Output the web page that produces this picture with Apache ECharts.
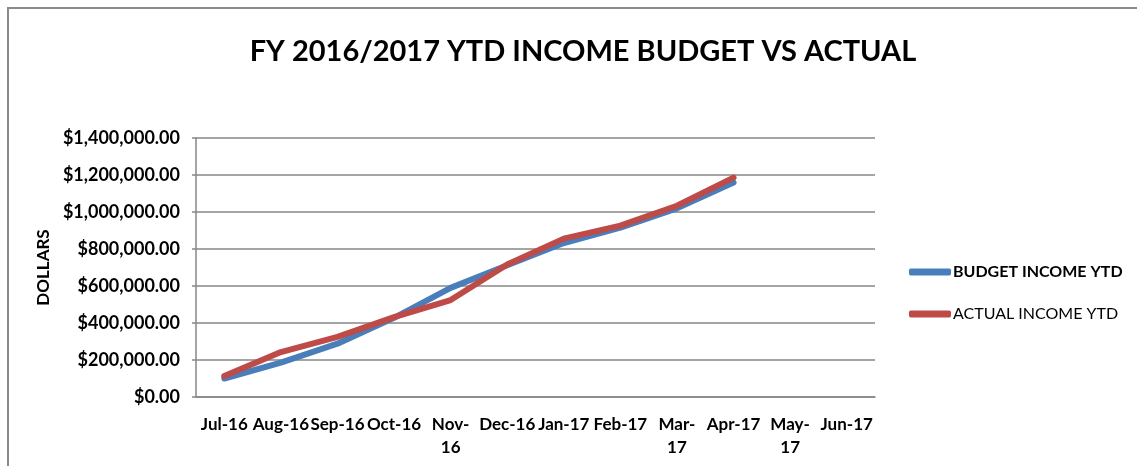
<!DOCTYPE html>
<html>
<head>
<meta charset="utf-8">
<script src="https://cdn.jsdelivr.net/npm/echarts@6/dist/echarts.min.js"></script>
<style>
  html, body { margin: 0; padding: 0; background: #fff; }
  #main { width: 1138px; height: 466px; }
</style>
</head>
<body>
<div id="main"></div>
<script>
const months = ['Jul-16', 'Aug-16', 'Sep-16', 'Oct-16', 'Nov-16', 'Dec-16',
  'Jan-17', 'Feb-17', 'Mar-17', 'Apr-17', 'May-17', 'Jun-17'];
const tickLabels = ['Jul-16', 'Aug-16', 'Sep-16', 'Oct-16', 'Nov-\n16', 'Dec-16',
  'Jan-17', 'Feb-17', 'Mar-\n17', 'Apr-17', 'May-\n17', 'Jun-17'];
const budgetYtd = [100000, 186000, 288000, 428000, 590000, 712000,
  832000, 915000, 1020000, 1160000, null, null];
const actualYtd = [113000, 243000, 325000, 432000, 524000, 716000,
  856000, 926000, 1034000, 1186000, null, null];

const font = 'Lato';
const myChart = echarts.init(document.getElementById('main'));

const option = {
  backgroundColor: '#fff',
  animation: false,
  textStyle: { fontFamily: font },
  // chart frame (only top and left edges are in view)
  graphic: [{
    type: 'polyline',
    shape: { points: [[8, 480], [8, 8], [1137, 8]] },
    style: { fill: 'none', stroke: '#8a8a8a', lineWidth: 2 },
    silent: true
  }],
  title: {
    text: 'FY 2016/2017 YTD INCOME BUDGET VS ACTUAL',
    left: 578,
    textAlign: 'center',
    top: 32,
    textStyle: { fontFamily: font, fontSize: 29, fontWeight: 'bold', color: '#000' }
  },
  legend: {
    orient: 'vertical',
    left: 904,
    top: 259,
    itemWidth: 42,
    itemHeight: 7,
    itemGap: 26,
    icon: 'roundRect',
    textStyle: { fontFamily: font, fontSize: 16, color: '#000', padding: [0, 0, 0, -3] },
    data: [
      { name: 'BUDGET INCOME YTD', textStyle: { fontWeight: 'bold' } },
      { name: 'ACTUAL INCOME YTD', textStyle: { fontWeight: 'normal' } }
    ]
  },
  grid: { left: 196, right: 263, top: 138, bottom: 69 },
  xAxis: {
    type: 'category',
    data: months,
    boundaryGap: true,
    axisLine: { lineStyle: { color: '#878787', width: 1.5 } },
    axisTick: { show: false },
    axisLabel: {
      interval: 0,
      margin: 16,
      color: '#000',
      fontFamily: font,
      fontSize: 17,
      fontWeight: 'bold',
      lineHeight: 23,
      formatter: (v, i) => tickLabels[i]
    }
  },
  yAxis: {
    type: 'value',
    min: 0,
    max: 1400000,
    interval: 200000,
    name: 'DOLLARS',
    nameLocation: 'middle',
    nameGap: 141,
    nameTextStyle: { fontFamily: font, fontSize: 17, fontWeight: 'bold', color: '#000' },
    axisLine: { show: true, lineStyle: { color: '#878787', width: 1.5 } },
    axisTick: { show: true, length: 4, lineStyle: { color: '#878787', width: 1.5 } },
    splitLine: { lineStyle: { color: '#878787', width: 1.5 } },
    axisLabel: {
      margin: 16,
      color: '#000',
      fontFamily: font,
      fontSize: 18,
      fontWeight: 'bold',
      formatter: v => '$' + v.toLocaleString('en-US', { minimumFractionDigits: 2, maximumFractionDigits: 2 })
    }
  },
  series: [
    {
      name: 'BUDGET INCOME YTD',
      type: 'line',
      data: budgetYtd,
      symbol: 'none',
      itemStyle: { color: '#4a7ebb' },
      lineStyle: { width: 6, color: '#4a7ebb', cap: 'round', join: 'round' }
    },
    {
      name: 'ACTUAL INCOME YTD',
      type: 'line',
      data: actualYtd,
      symbol: 'none',
      itemStyle: { color: '#be4b48' },
      lineStyle: { width: 6, color: '#be4b48', cap: 'round', join: 'round' }
    }
  ]
};

myChart.setOption(option);
</script>
</body>
</html>
